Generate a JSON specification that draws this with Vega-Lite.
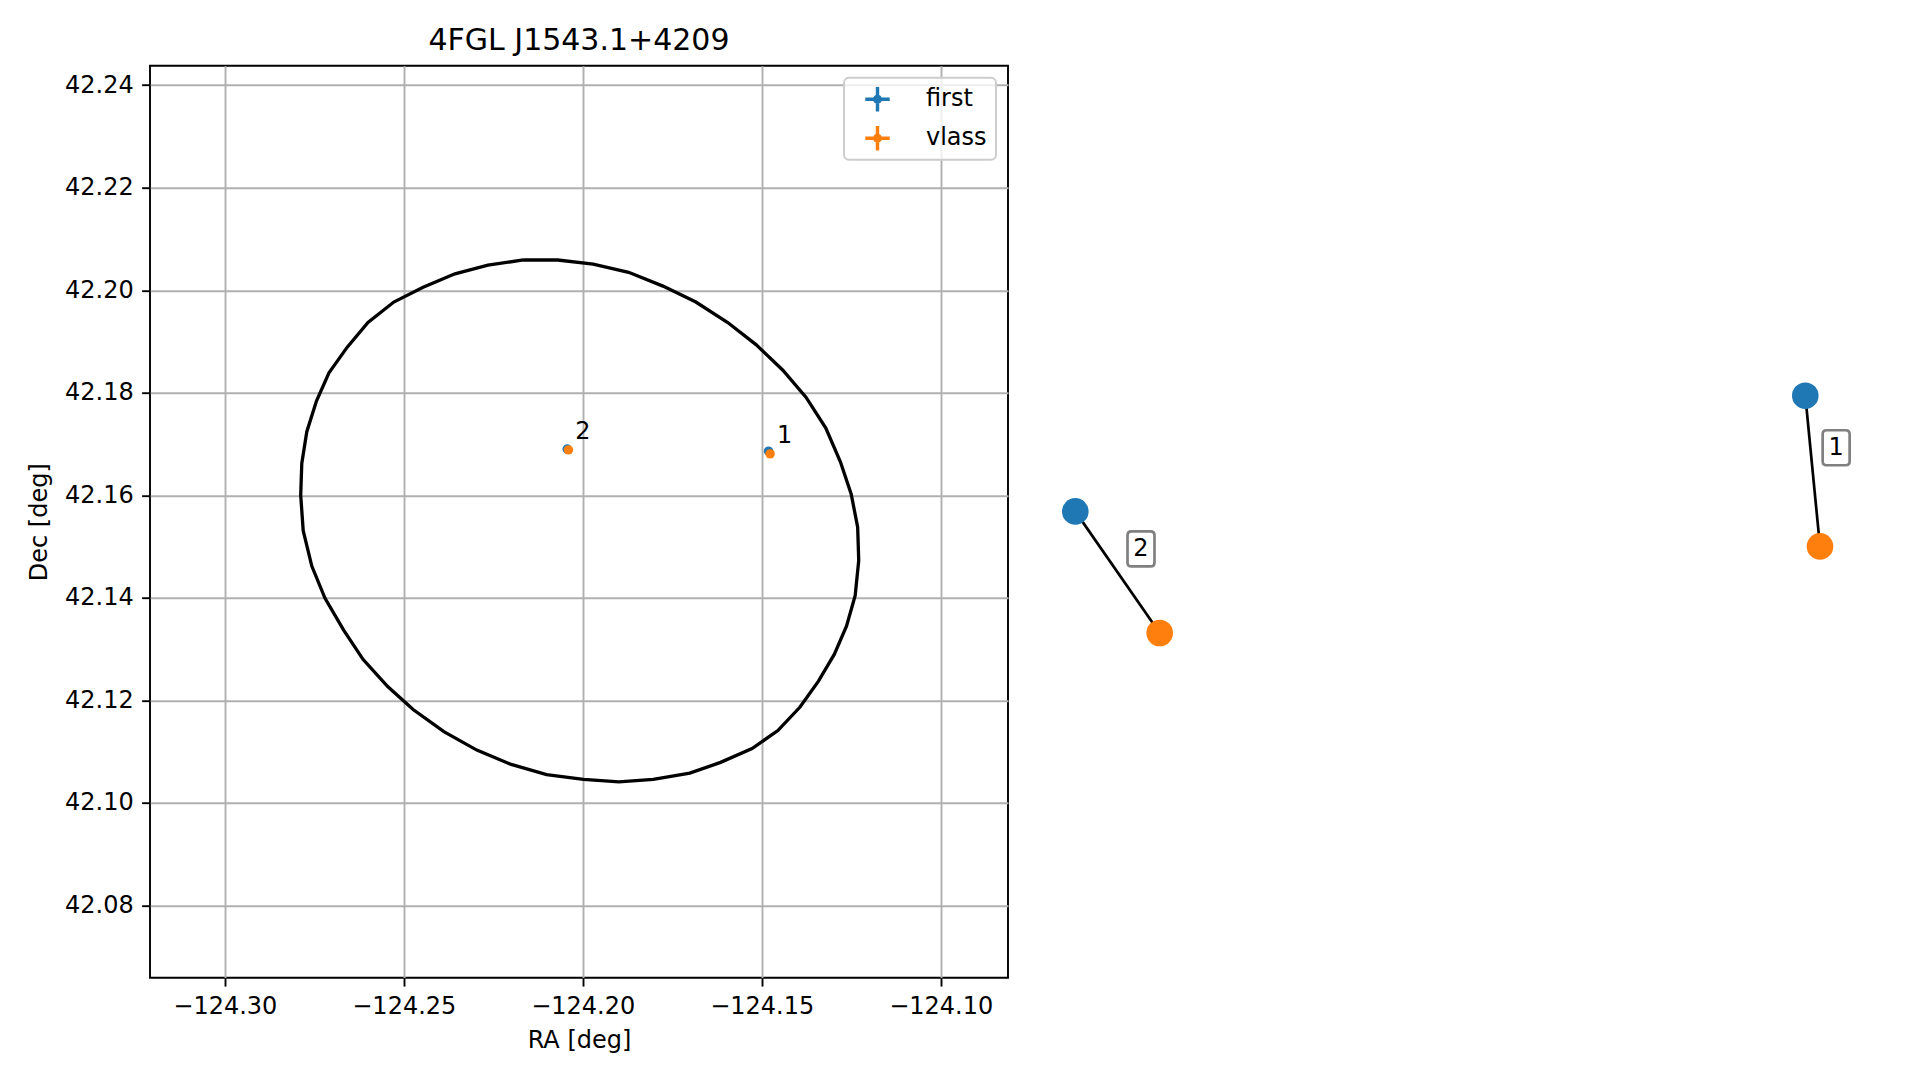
{
  "$schema": "https://vega.github.io/schema/vega-lite/v6.json",
  "background": "white",
  "padding": {"left": 26, "top": 24.7, "right": 0, "bottom": 0},
  "bounds": "flush",
  "spacing": 20,
  "datasets": {
    "ell": [
      {"i": 1, "ra": -124.2166, "dec": 42.2059},
      {"i": 2, "ra": -124.2070, "dec": 42.2059},
      {"i": 3, "ra": -124.1971, "dec": 42.2051},
      {"i": 4, "ra": -124.1872, "dec": 42.2035},
      {"i": 5, "ra": -124.1776, "dec": 42.2008},
      {"i": 6, "ra": -124.1684, "dec": 42.1977},
      {"i": 7, "ra": -124.1595, "dec": 42.1937},
      {"i": 8, "ra": -124.1516, "dec": 42.1894},
      {"i": 9, "ra": -124.1441, "dec": 42.1844},
      {"i": 10, "ra": -124.1376, "dec": 42.1791},
      {"i": 11, "ra": -124.1321, "dec": 42.1731},
      {"i": 12, "ra": -124.1280, "dec": 42.1665},
      {"i": 13, "ra": -124.1250, "dec": 42.1602},
      {"i": 14, "ra": -124.1232, "dec": 42.1538},
      {"i": 15, "ra": -124.1229, "dec": 42.1473},
      {"i": 16, "ra": -124.1239, "dec": 42.1404},
      {"i": 17, "ra": -124.1263, "dec": 42.1345},
      {"i": 18, "ra": -124.1297, "dec": 42.1290},
      {"i": 19, "ra": -124.1342, "dec": 42.1237},
      {"i": 20, "ra": -124.1393, "dec": 42.1187},
      {"i": 21, "ra": -124.1455, "dec": 42.1141},
      {"i": 22, "ra": -124.1527, "dec": 42.1106},
      {"i": 23, "ra": -124.1615, "dec": 42.1079},
      {"i": 24, "ra": -124.1701, "dec": 42.1058},
      {"i": 25, "ra": -124.1803, "dec": 42.1046},
      {"i": 26, "ra": -124.1899, "dec": 42.1041},
      {"i": 27, "ra": -124.1998, "dec": 42.1046},
      {"i": 28, "ra": -124.2101, "dec": 42.1055},
      {"i": 29, "ra": -124.2200, "dec": 42.1075},
      {"i": 30, "ra": -124.2296, "dec": 42.1103},
      {"i": 31, "ra": -124.2388, "dec": 42.1139},
      {"i": 32, "ra": -124.2474, "dec": 42.1182},
      {"i": 33, "ra": -124.2545, "dec": 42.1227},
      {"i": 34, "ra": -124.2614, "dec": 42.1280},
      {"i": 35, "ra": -124.2668, "dec": 42.1337},
      {"i": 36, "ra": -124.2720, "dec": 42.1399},
      {"i": 37, "ra": -124.2757, "dec": 42.1462},
      {"i": 38, "ra": -124.2781, "dec": 42.1531},
      {"i": 39, "ra": -124.2788, "dec": 42.1600},
      {"i": 40, "ra": -124.2785, "dec": 42.1662},
      {"i": 41, "ra": -124.2771, "dec": 42.1724},
      {"i": 42, "ra": -124.2744, "dec": 42.1784},
      {"i": 43, "ra": -124.2709, "dec": 42.1839},
      {"i": 44, "ra": -124.2658, "dec": 42.1889},
      {"i": 45, "ra": -124.2600, "dec": 42.1937},
      {"i": 46, "ra": -124.2528, "dec": 42.1977},
      {"i": 47, "ra": -124.2446, "dec": 42.2006},
      {"i": 48, "ra": -124.2357, "dec": 42.2032},
      {"i": 49, "ra": -124.2265, "dec": 42.2049},
      {"i": 50, "ra": -124.2166, "dec": 42.2059}
    ],
    "src": [
      {"id": "2", "survey": "first", "ra": -124.20435, "dec": 42.16903},
      {"id": "1", "survey": "first", "ra": -124.14810, "dec": 42.16860},
      {"id": "2", "survey": "vlass", "ra": -124.20400, "dec": 42.16886},
      {"id": "1", "survey": "vlass", "ra": -124.14766, "dec": 42.16808}
    ]
  },
  "hconcat": [
    {
      "width": 858,
      "height": 912,
      "title": {"text": "4FGL J1543.1+4209", "fontSize": 30, "fontWeight": "normal", "color": "black", "offset": -14.2, "baseline": "alphabetic", "anchor": "middle"},
      "view": {"stroke": "black", "strokeWidth": 1.9},
      "encoding": {
        "x": {"field": "ra", "type": "quantitative", "scale": {"domain": [-124.3209, -124.0812], "zero": false, "nice": false},
              "axis": {"title": "RA [deg]", "values": [-124.30, -124.25, -124.20, -124.15, -124.10], "format": ".2f"}},
        "y": {"field": "dec", "type": "quantitative", "scale": {"domain": [42.0659, 42.2438], "zero": false, "nice": false},
              "axis": {"title": "Dec [deg]", "values": [42.08, 42.10, 42.12, 42.14, 42.16, 42.18, 42.20, 42.22, 42.24], "format": ".2f"}}
      },
      "layer": [
        {"data": {"name": "ell"}, "mark": {"type": "line", "color": "black", "strokeWidth": 3.3}, "encoding": {"order": {"field": "i", "type": "quantitative"}}},
        {"data": {"name": "src"}, "mark": {"type": "point", "filled": true, "size": 90, "opacity": 1},
         "encoding": {"color": {"field": "survey", "type": "nominal", "scale": {"domain": ["first", "vlass"], "range": ["#1f77b4", "#ff7f0e"]},
           "legend": {"title": null, "orient": "top-right", "offset": 12, "padding": 9, "fillColor": "rgba(255,255,255,0.8)", "strokeColor": "#cccccc", "cornerRadius": 5,
             "labelFontSize": 24, "labelColor": "black", "symbolType": "M-1,-0.14H1V0.14H-1Z M-0.14,-1H0.14V1H-0.14Z M-0.37,0A0.37,0.37 0 1,1 0.37,0A0.37,0.37 0 1,1 -0.37,0Z",
             "symbolSize": 600, "symbolStrokeWidth": 0, "symbolOffset": 12, "labelOffset": 36, "rowPadding": 14}}}},
        {"data": {"name": "src"}, "transform": [{"filter": "datum.survey == 'vlass'"}],
         "mark": {"type": "text", "dx": 14.4, "dy": -18, "fontSize": 24, "align": "center", "baseline": "middle", "color": "black"},
         "encoding": {"text": {"field": "id", "type": "nominal"}}}
      ]
    },
    {
      "width": 400,
      "height": 912,
      "view": {"stroke": null},
      "data": {"name": "src"},
      "transform": [{"filter": "datum.id == '2'"}],
      "encoding": {
        "x": {"field": "ra", "type": "quantitative", "scale": {"domain": [-124.20454615, -124.20288735], "zero": false, "nice": false}, "axis": null},
        "y": {"field": "dec", "type": "quantitative", "scale": {"domain": [42.1683781, 42.1696531], "zero": false, "nice": false}, "axis": null}
      },
      "layer": [
        {"mark": {"type": "line", "color": "black", "strokeWidth": 2.7}, "encoding": {"order": {"field": "survey"}}},
        {"transform": [{"aggregate": [{"op": "mean", "field": "ra", "as": "ra"}, {"op": "mean", "field": "dec", "as": "dec"}], "groupby": ["id"]}],
         "mark": {"type": "point", "shape": "M0.801,-2.331H1.885Q2.114,-2.331 2.114,-2.102V-0.560Q2.114,-0.331 1.885,-0.331H0.801Q0.572,-0.331 0.572,-0.560V-2.102Q0.572,-2.331 0.801,-2.331Z",
                  "size": 1225, "filled": true, "fill": "white", "stroke": "#808080", "strokeWidth": 2.7, "opacity": 1}},
        {"transform": [{"aggregate": [{"op": "mean", "field": "ra", "as": "ra"}, {"op": "mean", "field": "dec", "as": "dec"}], "groupby": ["id"]}],
         "mark": {"type": "text", "dx": 23.5, "dy": -23.3, "fontSize": 24, "align": "center", "baseline": "middle", "color": "black"},
         "encoding": {"text": {"field": "id", "type": "nominal"}}},
        {"mark": {"type": "point", "filled": true, "size": 707, "opacity": 1},
         "encoding": {"color": {"field": "survey", "type": "nominal", "scale": {"domain": ["first", "vlass"], "range": ["#1f77b4", "#ff7f0e"]}, "legend": null}}}
      ]
    },
    {
      "width": 460,
      "height": 912,
      "view": {"stroke": null},
      "data": {"name": "src"},
      "transform": [{"filter": "datum.id == '1'"}],
      "encoding": {
        "x": {"field": "ra", "type": "quantitative", "scale": {"domain": [-124.158795, -124.145026], "zero": false, "nice": false}, "axis": null},
        "y": {"field": "dec", "type": "quantitative", "scale": {"domain": [42.1665918, 42.1697387], "zero": false, "nice": false}, "axis": null}
      },
      "layer": [
        {"mark": {"type": "line", "color": "black", "strokeWidth": 2.7}, "encoding": {"order": {"field": "survey"}}},
        {"transform": [{"aggregate": [{"op": "mean", "field": "ra", "as": "ra"}, {"op": "mean", "field": "dec", "as": "dec"}], "groupby": ["id"]}],
         "mark": {"type": "point", "shape": "M0.801,-2.331H1.885Q2.114,-2.331 2.114,-2.102V-0.560Q2.114,-0.331 1.885,-0.331H0.801Q0.572,-0.331 0.572,-0.560V-2.102Q0.572,-2.331 0.801,-2.331Z",
                  "size": 1225, "filled": true, "fill": "white", "stroke": "#808080", "strokeWidth": 2.7, "opacity": 1}},
        {"transform": [{"aggregate": [{"op": "mean", "field": "ra", "as": "ra"}, {"op": "mean", "field": "dec", "as": "dec"}], "groupby": ["id"]}],
         "mark": {"type": "text", "dx": 23.5, "dy": -23.3, "fontSize": 24, "align": "center", "baseline": "middle", "color": "black"},
         "encoding": {"text": {"field": "id", "type": "nominal"}}},
        {"mark": {"type": "point", "filled": true, "size": 707, "opacity": 1},
         "encoding": {"color": {"field": "survey", "type": "nominal", "scale": {"domain": ["first", "vlass"], "range": ["#1f77b4", "#ff7f0e"]}, "legend": null}}}
      ]
    }
  ],
  "resolve": {"scale": {"color": "independent"}, "legend": {"color": "independent"}},
  "config": {
    "font": "DejaVu Sans",
    "view": {"stroke": null},
    "axis": {"labelFontSize": 24, "titleFontSize": 24, "labelColor": "black", "titleColor": "black", "titleFontWeight": "normal",
             "tickColor": "black", "tickSize": 8.4, "tickWidth": 1.9, "labelPadding": 8.4, "gridColor": "#b0b0b0", "gridWidth": 1.9,
             "domain": false, "labelFlush": false, "labelOverlap": false},
    "axisX": {"titlePadding": 10},
    "axisY": {"titlePadding": 13.5},
    "legend": {"strokeWidth": 1.9}
  }
}
